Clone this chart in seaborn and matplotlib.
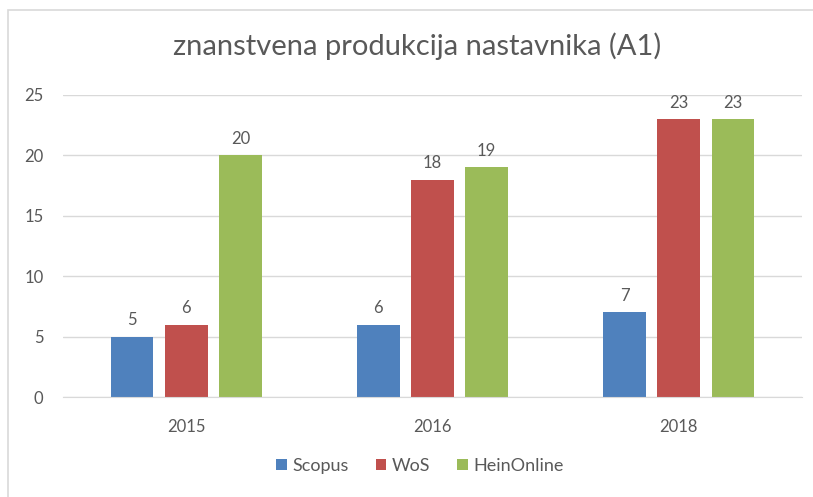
import pandas as pd
import matplotlib.pyplot as plt
import seaborn as sns
from matplotlib.patches import Rectangle

years = ['2015', '2016', '2018']
sources = ['Scopus', 'WoS', 'HeinOnline']
scopus = [5, 6, 7]
wos = [6, 18, 23]
hein = [20, 19, 23]
colors = ['#4F81BD', '#C0504D', '#9BBB59']

df = pd.DataFrame({
    'year': years * 3,
    'source': [s for s in sources for _ in years],
    'value': scopus + wos + hein,
})

sns.set_style('white')
plt.rcParams['font.family'] = ['Lato', 'DejaVu Sans']
txt = '#595959'

fig = plt.figure(figsize=(8.13, 4.97), dpi=100)
# chart border
fig.patches.append(Rectangle((8 / 813, -0.1), 1.2, 0.1 + 1 - 10 / 497, transform=fig.transFigure,
                             fill=False, edgecolor='#D9D9D9', linewidth=1.2))
ax = fig.add_axes([0.0775, 0.2012, 0.909, 0.6077])

sns.barplot(data=df, x='year', y='value', hue='source', palette=colors,
            width=0.66, gap=0.21, saturation=1, linewidth=0, ax=ax, legend=True)

ax.set_ylim(0, 25)
ax.set_xlim(-0.5, 2.5)
ax.set_yticks(range(0, 26, 5))
ax.yaxis.grid(True, color='#D9D9D9', linewidth=1)
ax.set_axisbelow(True)
for s in ['top', 'right', 'left']:
    ax.spines[s].set_visible(False)
ax.spines['bottom'].set_color('#D9D9D9')
ax.tick_params(axis='both', length=0, labelsize=12, colors=txt)
ax.tick_params(axis='y', pad=14)
ax.tick_params(axis='x', pad=16)
ax.set_xlabel('')
ax.set_ylabel('')

for c in ax.containers:
    ax.bar_label(c, fmt='%d', padding=6, fontsize=12, color=txt)

fig.text(0.513, 0.908, 'znanstvena produkcija nastavnika (A1)', ha='center', va='center',
         fontsize=21, color=txt)

ax.legend(loc='center', bbox_to_anchor=(0.483, -0.228), ncol=3, frameon=False,
          fontsize=13, labelcolor=txt, handlelength=0.6, handleheight=0.6,
          handletextpad=0.3, columnspacing=1.5)

fig.savefig('out.png', dpi=100)
